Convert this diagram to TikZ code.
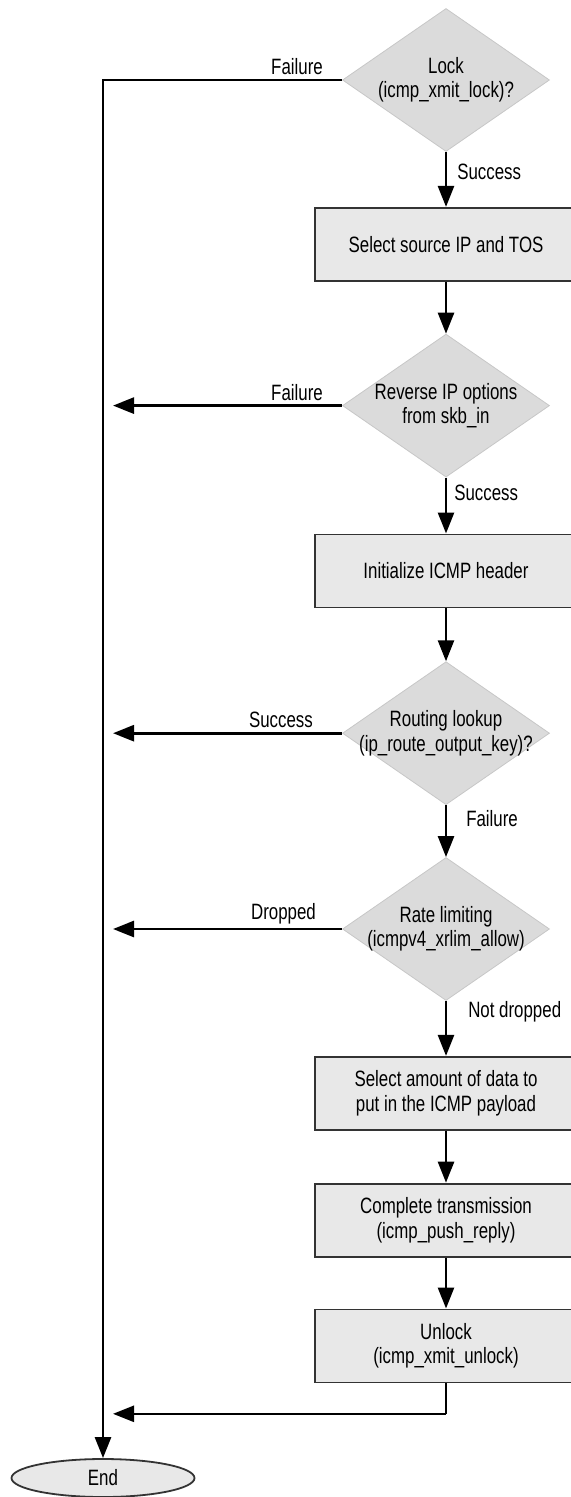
\documentclass[tikz,border=0pt]{standalone}
\usepackage{fontspec}
\setmainfont{Liberation Sans}[FakeStretch=0.76]
\usepackage{tikz}
\usetikzlibrary{positioning,arrows.meta,shapes.geometric}

\begin{document}
\begin{tikzpicture}[
  font=\fontsize{11.1}{12.2}\selectfont,
  box/.style={draw=black!80, line width=0.9pt, fill=black!9, align=center, minimum width=131pt, minimum height=36.5pt, inner sep=0pt},
  decision/.style={diamond, draw=black!22, fill=black!14, minimum width=103.5pt, minimum height=71.5pt, inner sep=0pt},
  dtext/.style={align=center, inner sep=0pt},
  lbl/.style={inner sep=2pt},
  arr/.style={-{Triangle[length=10.5pt, width=8pt]}, line width=1.3pt},
  line/.style={line width=1.3pt}
]
\useasboundingbox (0,0) rectangle (285.5pt,-748.5pt);
\node[decision] (lock) at (223pt,-40pt) {};
\node[dtext] (locktxt) at (lock) {Lock\\(icmp\_xmit\_lock)?};
\node[box, below=27.5pt of lock] (srcip) {Select source IP and TOS};
\node[decision, below=26pt of srcip] (revopt) {};
\node[dtext] (revtxt) at (revopt) {Reverse IP options\\from skb\_in};
\node[box, below=28pt of revopt] (inithdr) {Initialize ICMP header};
\node[decision, below=26.5pt of inithdr] (route) {};
\node[dtext] (routetxt) at (route) {Routing lookup\\(ip\_route\_output\_key)?};
\node[decision, below=26pt of route] (ratelim) {};
\node[dtext] (ratetxt) at (ratelim) {Rate limiting\\(icmpv4\_xrlim\_allow)};
\node[box, below=27.5pt of ratelim] (amount) {Select amount of data to\\put in the ICMP payload};
\node[box, below=26pt of amount] (xmit) {Complete transmission\\(icmp\_push\_reply)};
\node[box, below=25.5pt of xmit] (unlock) {Unlock\\(icmp\_xmit\_unlock)};
\node[ellipse, draw=black!80, line width=0.9pt, fill=black!9, minimum width=91.5pt, minimum height=19pt, inner sep=0pt] (fin) at (51.5pt,-739pt) {End};
\coordinate[right=5pt of fin.north] (side);
\coordinate[below=15.25pt of unlock.south] (back);
\draw[arr] (lock.west) -| node[lbl, above left, at start, xshift=-7pt] {Failure} (fin.north);
\draw[arr] (lock) -- node[lbl, right, pos=0.37, xshift=3pt] {Success} (srcip);
\draw[arr] (srcip) -- (revopt);
\draw[arr] (revopt.west) -- node[lbl, above left, at start, xshift=-7pt] {Failure} (revopt.west -| side);
\draw[arr] (revopt) -- node[lbl, right, pos=0.28, xshift=1.5pt] {Success} (inithdr);
\draw[arr] (inithdr) -- (route);
\draw[arr] (route.west) -- node[lbl, above left, at start, xshift=-12pt] {Success} (route.west -| side);
\draw[arr] (route) -- node[lbl, right, pos=0.25, xshift=7.5pt] {Failure} (ratelim);
\draw[arr] (ratelim.west) -- node[lbl, above left, at start, xshift=-10.5pt] {Dropped} (ratelim.west -| side);
\draw[arr] (ratelim) -- node[lbl, right, pos=0.19, xshift=8.5pt] {Not dropped} (amount);
\draw[arr] (amount) -- (xmit);
\draw[arr] (xmit) -- (unlock);
\draw[line] (unlock) -- (back);
\draw[arr] (back) -- (back -| side);
\end{tikzpicture}
\end{document}
